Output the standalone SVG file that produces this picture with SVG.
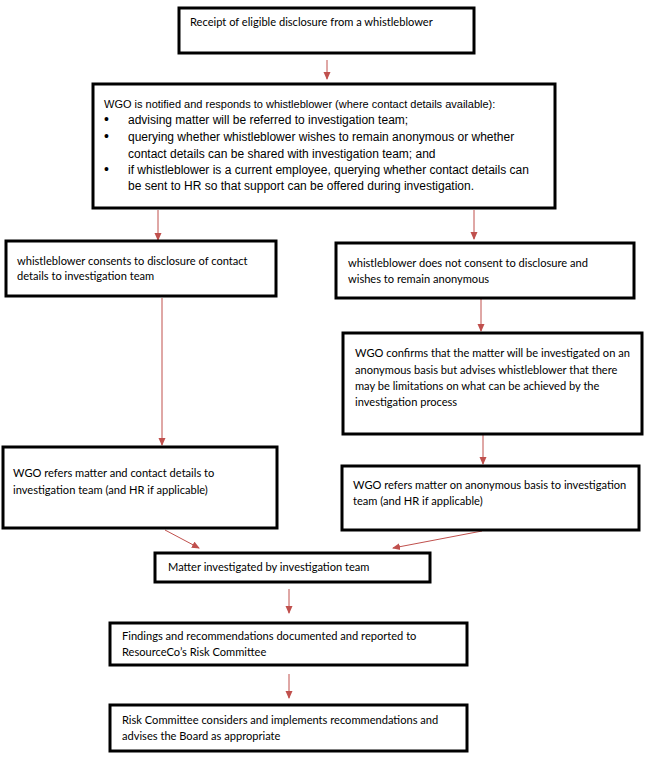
<svg xmlns="http://www.w3.org/2000/svg" width="648" height="759" viewBox="0 0 648 759">
<style>
.box{fill:#fff;stroke:#000;stroke-width:3}
.t{font-family:Lato,"Open Sans",sans-serif;font-size:11.1px;fill:#000}
.a{font-family:"Liberation Sans",Arial,sans-serif;fill:#000}
.c{stroke:#c0504d;stroke-width:1;fill:none}
</style>
<defs>
<marker id="ah" markerWidth="8" markerHeight="8" refX="7" refY="4" orient="auto" markerUnits="userSpaceOnUse">
<path d="M0,0.5 L8,4 L0,7.5 Z" fill="#c0504d"/>
</marker>
</defs>
<rect width="648" height="759" fill="#fff"/>
<g id="connectors">
<line class="c" x1="327" y1="60" x2="327" y2="79" marker-end="url(#ah)"/>
<line class="c" x1="158" y1="210" x2="158" y2="240" marker-end="url(#ah)"/>
<line class="c" x1="474" y1="210" x2="474" y2="239" marker-end="url(#ah)"/>
<line class="c" x1="481" y1="299" x2="481" y2="331" marker-end="url(#ah)"/>
<line class="c" x1="162" y1="298" x2="162" y2="445" marker-end="url(#ah)"/>
<line class="c" x1="483" y1="435" x2="483" y2="464" marker-end="url(#ah)"/>
<line class="c" x1="165" y1="530" x2="199" y2="548" marker-end="url(#ah)"/>
<line class="c" x1="482" y1="531" x2="393" y2="548" marker-end="url(#ah)"/>
<line class="c" x1="289" y1="589" x2="289" y2="613" marker-end="url(#ah)"/>
<line class="c" x1="289" y1="674" x2="289" y2="698" marker-end="url(#ah)"/>
</g>
<g id="n1"><rect class="box" x="179" y="8" width="295" height="45"/>
<text class="t" x="190" y="26">Receipt of eligible disclosure from a whistleblower</text></g>
<g id="n2"><rect class="box" x="93" y="84" width="462" height="124"/>
<text class="a" font-size="11" x="104" y="108">WGO is notified and responds to whistleblower (where contact details available):</text>
<g font-size="12" class="a">
<text x="104" y="124" font-size="14">•</text><text x="128" y="124">advising matter will be referred to investigation team;</text>
<text x="104" y="141" font-size="14">•</text><text x="128" y="141">querying whether whistleblower wishes to remain anonymous or whether</text>
<text x="128" y="158">contact details can be shared with investigation team; and</text>
<text x="104" y="174" font-size="14">•</text><text x="128" y="174">if whistleblower is a current employee, querying whether contact details can</text>
<text x="128" y="190">be sent to HR so that support can be offered during investigation.</text>
</g></g>
<g id="n3"><rect class="box" x="6" y="241" width="270" height="55"/>
<text class="t" x="17" y="265">whistleblower consents to disclosure of contact</text>
<text class="t" x="17" y="280">details to investigation team</text></g>
<g id="n4"><rect class="box" x="336" y="243" width="298" height="55"/>
<text class="t" x="348" y="267">whistleblower does not consent to disclosure and</text>
<text class="t" x="348" y="283">wishes to remain anonymous</text></g>
<g id="n5"><rect class="box" x="343" y="333" width="299" height="101"/>
<text class="t" x="355" y="357">WGO confirms that the matter will be investigated on an</text>
<text class="t" x="355" y="374">anonymous basis but advises whistleblower that there</text>
<text class="t" x="355" y="390">may be limitations on what can be achieved by the</text>
<text class="t" x="355" y="406">investigation process</text></g>
<g id="n6"><rect class="box" x="3" y="447" width="274" height="81"/>
<text class="t" x="13" y="477">WGO refers matter and contact details to</text>
<text class="t" x="13" y="494">investigation team (and HR if applicable)</text></g>
<g id="n7"><rect class="box" x="342" y="466" width="297" height="64"/>
<text class="t" x="353" y="489">WGO refers matter on anonymous basis to investigation</text>
<text class="t" x="353" y="505">team (and HR if applicable)</text></g>
<g id="n8"><rect class="box" x="155" y="553" width="275" height="29"/>
<text class="t" x="168" y="571">Matter investigated by investigation team</text></g>
<g id="n9"><rect class="box" x="110" y="623" width="357" height="42"/>
<text class="t" x="122" y="640">Findings and recommendations documented and reported to</text>
<text class="t" x="122" y="656">ResourceCo’s Risk Committee</text></g>
<g id="n10"><rect class="box" x="110" y="705" width="357" height="46"/>
<text class="t" x="122" y="724">Risk Committee considers and implements recommendations and</text>
<text class="t" x="122" y="740">advises the Board as appropriate</text></g>
</svg>
